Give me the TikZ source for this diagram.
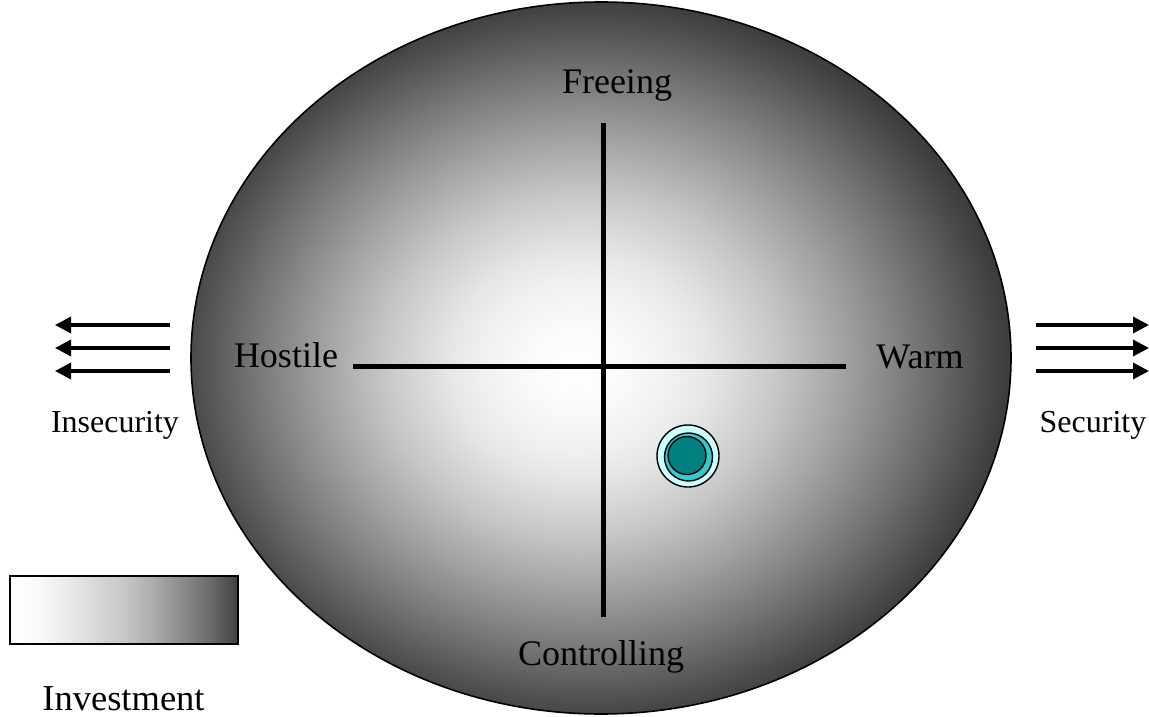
\documentclass[tikz,border=0pt]{standalone}
\usepackage{fontspec}
\setmainfont{Liberation Serif}
\usetikzlibrary{arrows.meta}
\pgfdeclareradialshading{ellshade}{\pgfpoint{-1.6bp}{-0.6bp}}{%
  color(0bp)=(white); color(3bp)=(black!2); color(6bp)=(black!6);
  color(8bp)=(black!10); color(12bp)=(black!22); color(16bp)=(black!37);
  color(20bp)=(black!53); color(24bp)=(black!70); color(25.5bp)=(black!76);
  color(50bp)=(black!76)}
\pgfdeclarehorizontalshading{boxshade}{100bp}{%
  color(0bp)=(white); color(25bp)=(white); color(31bp)=(black!2);
  color(37.5bp)=(black!8); color(50bp)=(black!22); color(56bp)=(black!32);
  color(62.5bp)=(black!45); color(69bp)=(black!58); color(75bp)=(black!75);
  color(100bp)=(black!75)}
\definecolor{ringcol}{HTML}{CCFFFF}
\definecolor{midcol}{HTML}{33CCCC}
\definecolor{corecol}{HTML}{008080}
\tikzset{
  bigtext/.style={font=\fontsize{36}{40}\selectfont, anchor=base, inner sep=0pt},
  smalltext/.style={font=\fontsize{32}{36}\selectfont, anchor=base, inner sep=0pt},
  axisline/.style={line width=5pt, line cap=butt},
  flowarrow/.style={line width=3.4pt, -{Triangle[length=16pt,width=16pt]}},
}
\begin{document}
\begin{tikzpicture}[x=1pt,y=-1pt]
\useasboundingbox (0,0) rectangle (1149,717);
% big shaded ellipse
\shadedraw[shading=ellshade, line width=1.6pt] (601,358) ellipse [x radius=410, y radius=356];
% axes
\coordinate (vtop) at (603,123);
\coordinate (vbot) at (603,617);
\coordinate (hleft) at (353,366);
\coordinate (hright) at (846,366);
\draw[axisline] (vtop) -- (vbot);
\draw[axisline] (hleft) -- (hright);
% labels
\node[bigtext] (freeing) at (617,93) {Freeing};
\node[bigtext] (controlling) at (601,665) {Controlling};
\node[bigtext] (hostile) at (286,367) {Hostile};
\node[bigtext] (warm) at (920,368) {Warm};
\node[smalltext] (insec) at (115,432) {Insecurity};
\node[smalltext] (sec) at (1093,432) {Security};
\node[bigtext, font=\fontsize{36.5}{40}\selectfont] (invest) at (123.5,710) {Investment};
% arrows left
\coordinate (la1) at (170,325); \coordinate (lb1) at (55,325);
\coordinate (la2) at (170,348); \coordinate (lb2) at (55,348);
\coordinate (la3) at (170,371); \coordinate (lb3) at (55,371);
\draw[flowarrow] (la1) -- (lb1);
\draw[flowarrow] (la2) -- (lb2);
\draw[flowarrow] (la3) -- (lb3);
% arrows right
\coordinate (ra1) at (1036,325); \coordinate (rb1) at (1149,325);
\coordinate (ra2) at (1036,348); \coordinate (rb2) at (1149,348);
\coordinate (ra3) at (1036,371); \coordinate (rb3) at (1149,371);
\draw[flowarrow] (ra1) -- (rb1);
\draw[flowarrow] (ra2) -- (rb2);
\draw[flowarrow] (ra3) -- (rb3);
% investment box
\shadedraw[shading=boxshade, line width=1.6pt] (10,576) rectangle (238,644);
% dot
\filldraw[fill=ringcol, draw=black, line width=1.4pt] (688,456) circle[radius=31];
\filldraw[fill=midcol, draw=black, line width=1.4pt] (688.5,457) circle[radius=24];
\filldraw[fill=corecol, draw=black, line width=1.4pt] (687,455.5) circle[radius=19];
\end{tikzpicture}
\end{document}
